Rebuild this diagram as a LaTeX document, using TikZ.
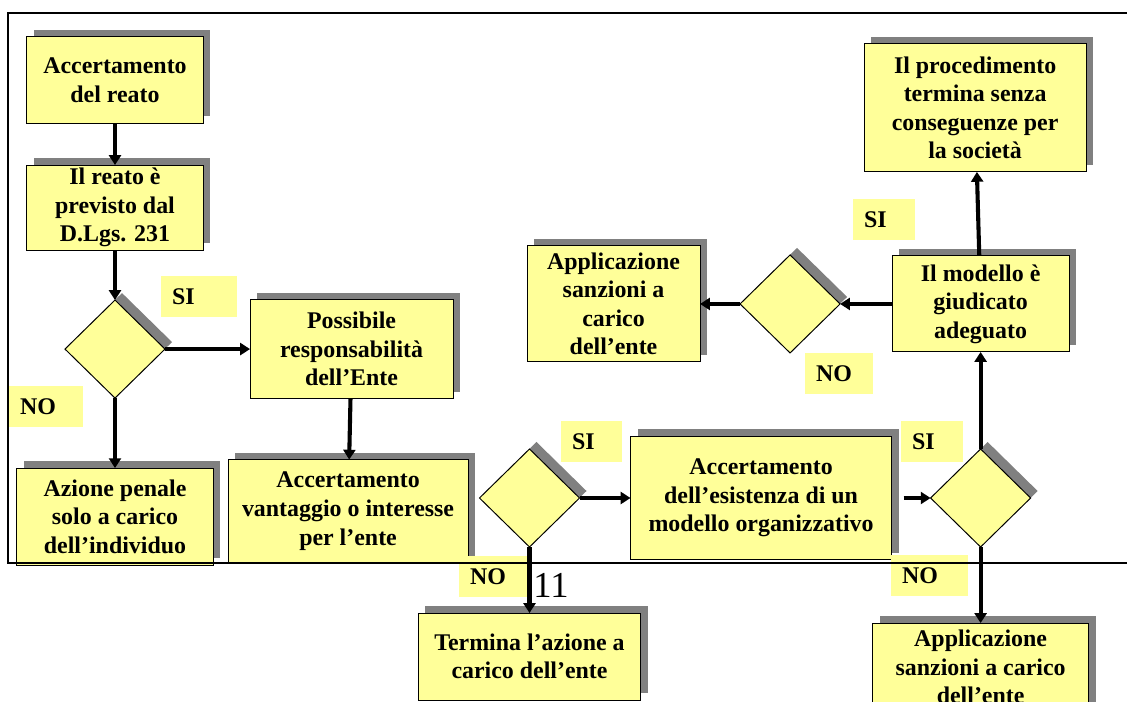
\documentclass[tikz,border=0pt]{standalone}
\usepackage{fontspec}
\setmainfont{Liberation Serif}
\usetikzlibrary{positioning,shapes.geometric,shadows,arrows.meta}
\usepackage{xcolor}
\definecolor{pyellow}{RGB}{255,255,153}
\definecolor{pshadow}{RGB}{128,128,128}

\begin{document}
\begin{tikzpicture}[x=0.025cm, y=-0.025cm]
\useasboundingbox (0,0) rectangle (1127,702);
\clip (0,0) rectangle (1127,702);

\fontsize{17}{20.3}\selectfont
\bfseries
\tikzstyle{basenode}=[align=center, inner sep=1pt, outer sep=0pt];
\tikzstyle{box}=[basenode, draw=black, line width=0.7pt, fill=pyellow, drop shadow={shadow xshift=0.175cm, shadow yshift=0.175cm, fill=pshadow, opacity=1}];
\tikzstyle{dec}=[box, diamond, minimum width=2.5cm, minimum height=2.45cm, inner sep=0pt];
\tikzstyle{lbl}=[basenode, fill=pyellow, anchor=north west, align=left, minimum height=1.025cm, inner xsep=0.275cm];
\tikzstyle{arr}=[line width=2.9pt, black, -{Triangle[length=7pt,width=8.5pt]}];
\tikzstyle{frame}=[line width=1.4pt, black];

% left column
\node[ box, minimum width=4.4cm, minimum height=2.15cm ] (acc) at (115,80) {Accertamento\\del reato};
\node[ box, minimum width=4.4cm, minimum height=2.125cm, below=1.05cm of acc ] (rea) {Il reato è\\previsto dal\\D.Lgs. 231};
\node[ dec, below=1.25cm of rea ] (d1) {};
\node[ box, minimum width=4.9cm, minimum height=2.425cm, below=1.75cm of d1 ] (ind) {Azione penale\\solo a carico\\dell’individuo};
\node[ box, minimum width=5.075cm, minimum height=2.475cm, right=2.125cm of d1 ] (pos) {Possibile\\responsabilità\\dell’Ente};
\node[ box, minimum width=6cm, minimum height=2.575cm, below=1.525cm of pos, xshift=-0.0875cm ] (van) {Accertamento\\vantaggio o interesse\\per l’ente};

% bottom row
\node[ dec ] (d2) at (529.5,498) {};
\node[ box, minimum width=6.525cm, minimum height=3.075cm, right=1.275cm of d2 ] (esi) {Accertamento\\dell’esistenza di un\\modello organizzativo};
\node[ box, minimum width=5.55cm, minimum height=2.175cm, below=1.65cm of d2 ] (ter) {Termina l’azione a\\carico dell’ente};
\node[ dec, right=0.975cm of esi ] (d3) {};
\node[ box, minimum width=5.4cm, minimum height=2.2cm, below=1.9cm of d3 ] (san) {Applicazione\\sanzioni a carico\\dell’ente};

% right column
\node[ box, minimum width=4.425cm, minimum height=2.4cm, above=2.425cm of d3 ] (mod) {Il modello è\\giudicato\\adeguato};
\node[ box, minimum width=5.55cm, minimum height=3.2cm, above=2.1cm of mod, xshift=-0.1375cm ] (pro) {Il procedimento\\termina senza\\conseguenze per\\la società};
\node[ dec, left=1.3cm of mod ] (d4) {};
\node[ box, minimum width=4.325cm, minimum height=2.9cm, left=1cm of d4 ] (app) {Applicazione\\sanzioni a\\carico\\dell’ente};

\node[ lbl, text width=1.35cm ] (si1) at (161,276) {SI};
\node[ lbl, text width=1.3cm ] (no1) at (9,386) {NO};
\node[ lbl, text width=0.975cm ] (si2) at (561,421) {SI};
\node[ lbl, text width=1.15cm ] (no2) at (459,556) {NO};
\node[ lbl, text width=1cm ] (si3) at (901,421) {SI};
\node[ lbl, text width=1.375cm ] (no3) at (891,555) {NO};
\node[ lbl, text width=1cm ] (si4) at (853,199) {SI};
\node[ lbl, text width=1.15cm ] (no4) at (805,353) {NO};

\draw[ arr ] (acc) -- (rea);
\draw[ arr ] (rea) -- (d1);
\draw[ arr ] (d1) -- (pos);
\draw[ arr ] (d1) -- (ind);
\draw[ arr ] (pos) -- (van);
\draw[ arr ] (d2) -- (esi);
\draw[ arr ] (d2) -- (ter);
\draw[ arr ] ([xshift=0.3cm]esi.east) -- (d3.west);
\draw[ arr ] (d3) -- (san);
\draw[ arr ] (d3) -- (mod);
\draw[ arr ] (mod) -- (pro);
\draw[ arr ] (mod) -- (d4);
\draw[ arr ] (d4) -- (app);

\node[ font=\mdseries\fontsize{26}{30}\selectfont ] (pag) at (551,585) {11};

\draw[ frame ] (8,13) rectangle (1140,563);
\end{tikzpicture}
\end{document}
